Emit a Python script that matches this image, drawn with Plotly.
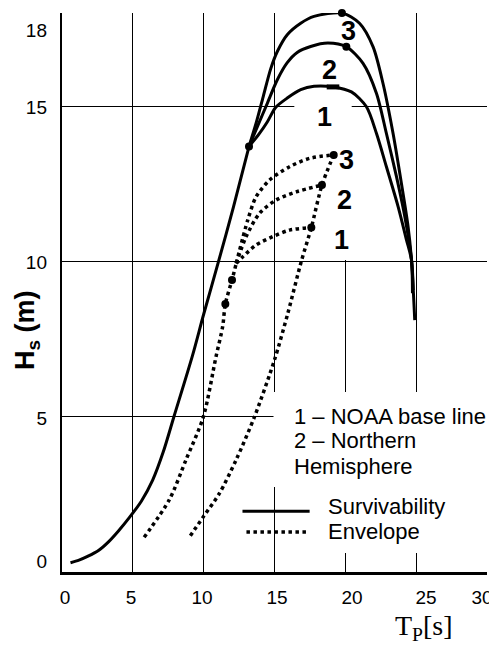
import plotly.graph_objects as go

# ---------------- data ----------------
# Survivability: common rising part up to the junction point
surv_base_T = [0.6, 1.2, 1.8, 2.6, 3.3, 4.0, 4.75, 5.6, 6.4, 7.15, 7.9, 9.2, 10.0, 11.05, 12.1, 13.2]
surv_base_H = [0.3, 0.38, 0.5, 0.7, 0.98, 1.33, 1.75, 2.28, 2.96, 3.87, 5.0, 6.95, 8.3, 10.0, 11.75, 13.7]
# Survivability branches 1 (NOAA base line), 2 (Northern Hemisphere), 3
surv1_T = [13.2, 13.9, 14.5, 15.08, 15.9, 16.85, 17.79, 19.13, 20.43, 21.49, 22.2, 22.9, 23.73, 24.32, 24.67, 24.79]
surv1_H = [13.7, 14.1, 14.5, 14.96, 15.26, 15.53, 15.64, 15.62, 15.46, 14.98, 14.12, 13.05, 11.76, 10.69, 10.05, 9.08]
surv2_T = [13.2, 13.8, 14.5, 15.2, 15.9, 16.6, 17.55, 18.77, 20.07, 21.25, 22.2, 22.9, 23.61, 24.2, 24.67, 24.74]
surv2_H = [13.7, 14.35, 15.1, 15.85, 16.4, 16.73, 16.92, 17.03, 16.91, 16.38, 15.41, 14.12, 12.73, 11.44, 10.05, 8.98]
surv3_T = [13.2, 13.7, 14.2, 14.73, 15.2, 15.9, 16.85, 17.79, 19.76, 21.0, 21.96, 22.66, 23.37, 23.96, 24.43, 24.67, 24.9]
surv3_H = [13.7, 14.45, 15.3, 16.2, 16.76, 17.3, 17.67, 17.89, 18.0, 17.67, 16.91, 15.73, 14.12, 12.51, 11.12, 10.05, 8.11]
surv_dot_T = [13.2, 20.07, 19.76]
surv_dot_H = [13.7, 16.91, 18.0]
surv1_mark_T = [19.13]
surv1_mark_H = [15.62]

# Envelope: left lower part, three branches, right connecting curve
env_left_T = [5.8, 7.57, 8.75, 9.98, 10.87, 11.34, 11.53, 12.0, 12.3]
env_left_H = [1.12, 2.32, 3.61, 5.0, 6.93, 7.9, 8.63, 9.4, 9.94]
env1_T = [12.3, 12.76, 13.7, 14.88, 16.06, 17.6]
env1_H = [9.94, 10.15, 10.53, 10.8, 11.01, 11.09]
env2_T = [12.3, 13.0, 13.94, 15.12, 16.53, 18.35]
env2_H = [9.94, 10.8, 11.55, 11.98, 12.24, 12.46]
env3_T = [12.3, 13.11, 13.7, 14.65, 16.06, 17.48, 19.18]
env3_H = [9.94, 11.33, 12.08, 12.62, 13.05, 13.32, 13.43]
env_right_T = [9.06, 9.98, 11.11, 12.29, 13.59, 15.0, 15.94, 16.89, 17.6, 18.35, 19.18]
env_right_H = [1.17, 1.78, 2.53, 3.61, 5.0, 6.83, 8.33, 10.0, 11.09, 12.46, 13.43]
env_dot_T = [11.53, 12.0, 17.6, 18.35, 19.18]
env_dot_H = [8.63, 9.4, 11.09, 12.46, 13.43]

# curve number labels
surv_lbl_T = [18.54, 18.9, 20.19]
surv_lbl_H = [14.66, 16.16, 17.43]
env_lbl_T = [19.72, 19.95, 20.07]
env_lbl_H = [10.69, 11.98, 13.26]
curve_ids = ["1", "2", "3"]

# axis tick labels
x_ticks = [5, 10, 15, 20, 25, 30]
y_ticks = [5, 10, 15, 18]
x_tick_text = ["0", "5", "10", "15", "20", "25", "30"]
x_tick_pos = [0.21, 4.87, 9.88, 15.18, 20.47, 25.69, 29.65]
y_tick_text = ["0", "5", "10", "15", "18"]
y_tick_pos = [0.35, 4.96, 9.98, 14.97, 17.45]

legend_lines = ["1 \u2013 NOAA base line", "2 \u2013 Northern", "Hemisphere"]

# ---------------- figure ----------------
FONT = "Liberation Sans, Arial, sans-serif"
SERIF = "Liberation Serif, Times New Roman, serif"

fig = go.Figure()

solid = dict(color="black", width=3, shape="spline", smoothing=0.8)
dotted = dict(color="black", width=3.5, dash="dot", shape="spline", smoothing=0.8)

for T, H in [(surv_base_T, surv_base_H), (surv1_T, surv1_H), (surv2_T, surv2_H), (surv3_T, surv3_H)]:
    fig.add_trace(go.Scatter(x=T, y=H, mode="lines", line=solid, cliponaxis=False,
                             hoverinfo="skip", showlegend=False))
for T, H in [(env_left_T, env_left_H), (env1_T, env1_H), (env2_T, env2_H), (env3_T, env3_H),
             (env_right_T, env_right_H)]:
    fig.add_trace(go.Scatter(x=T, y=H, mode="lines", line=dotted, cliponaxis=False,
                             hoverinfo="skip", showlegend=False))

fig.add_trace(go.Scatter(x=surv_dot_T + env_dot_T, y=surv_dot_H + env_dot_H, mode="markers",
                         marker=dict(color="black", size=8), cliponaxis=False,
                         hoverinfo="skip", showlegend=False))
fig.add_trace(go.Scatter(x=surv1_mark_T, y=surv1_mark_H, mode="markers",
                         marker=dict(symbol="line-ew", size=9, line=dict(color="black", width=5)),
                         cliponaxis=False, hoverinfo="skip", showlegend=False))

# overlay axes carrying the tick labels
fig.add_trace(go.Scatter(x=[None], y=[None], xaxis="x2", yaxis="y2", showlegend=False,
                         hoverinfo="skip"))

annotations = []
for t, h, s in zip(surv_lbl_T, surv_lbl_H, curve_ids):
    annotations.append(dict(x=t, y=h, xref="x", yref="y", text="<b>%s</b>" % s, showarrow=False,
                            font=dict(family=FONT, size=27, color="black")))
for t, h, s in zip(env_lbl_T, env_lbl_H, curve_ids):
    annotations.append(dict(x=t, y=h, xref="x", yref="y", text="<b>%s</b>" % s, showarrow=False,
                            font=dict(family=FONT, size=27, color="black")))

for i, s in enumerate(legend_lines):
    annotations.append(dict(x=16.2, y=[5.02, 4.24, 3.41][i], xref="x", yref="y", text=s,
                            xanchor="left", showarrow=False,
                            font=dict(family=FONT, size=22, color="black")))
annotations.append(dict(x=18.66, y=2.1, xref="x", yref="y", text="Survivability", xanchor="left",
                        showarrow=False, font=dict(family=FONT, size=22, color="black")))
annotations.append(dict(x=18.66, y=1.3, xref="x", yref="y", text="Envelope", xanchor="left",
                        showarrow=False, font=dict(family=FONT, size=22, color="black")))

annotations.append(dict(x=-0.0824, y=0.433, xref="paper", yref="paper",
                        xanchor="center", yanchor="middle",
                        text="<b>H<sub>s</sub> (m)</b>", textangle=-90, showarrow=False,
                        font=dict(family=FONT, size=27, color="black")))
annotations.append(dict(x=0.852, y=-0.1, xref="paper", yref="paper",
                        xanchor="center", yanchor="middle", text="T<sub>P</sub>[s]",
                        showarrow=False, font=dict(family=SERIF, size=28, color="black")))

shapes = [
    # white masks over gridlines (between grid and traces)
    dict(type="rect", xref="x", yref="y", x0=14.93, x1=31, y0=2.74, y1=5.8,
         fillcolor="white", line=dict(width=0), layer="between"),
    dict(type="rect", xref="x", yref="y", x0=15.2, x1=31, y0=0.61, y1=2.75,
         fillcolor="white", line=dict(width=0), layer="between"),
    dict(type="rect", xref="x", yref="y", x0=16.4, x1=20.45, y0=14.9, y1=15.1,
         fillcolor="white", line=dict(width=0), layer="between"),
    dict(type="rect", xref="x", yref="y", x0=19.88, x1=20.12, y0=10.05, y1=17.98,
         fillcolor="white", line=dict(width=0), layer="between"),
    # legend samples
    dict(type="line", xref="x", yref="y", x0=12.74, x1=17.48, y0=1.96, y1=1.96,
         line=dict(color="black", width=3)),
    dict(type="line", xref="x", yref="y", x0=13.02, x1=17.34, y0=1.29, y1=1.29,
         line=dict(color="black", width=3.5, dash="dot")),
]

# the page body has an 8px default margin: size the figure so the plot lands
# where it is in the reference (plot area 62..487 x 13..572 in page pixels)
fig.update_layout(
    width=489, height=638, autosize=False,
    margin=dict(l=54, r=10, t=5, b=74, pad=0),
    paper_bgcolor="white", plot_bgcolor="white",
    showlegend=False,
    font=dict(family=FONT, size=19, color="black"),
    xaxis=dict(range=[0, 30], tickvals=x_ticks, showticklabels=False, ticks="",
               showgrid=True, gridcolor="black", gridwidth=1, zeroline=False,
               showline=True, linecolor="black", linewidth=3),
    yaxis=dict(range=[0, 18], tickvals=y_ticks, showticklabels=False, ticks="",
               showgrid=True, gridcolor="black", gridwidth=1, zeroline=False,
               showline=True, linecolor="black", linewidth=2),
    xaxis2=dict(overlaying="x", anchor="y", side="bottom", range=[0, 30],
                tickvals=x_tick_pos, ticktext=x_tick_text, ticks="", showgrid=False,
                zeroline=False, showline=False, ticklabelstandoff=12,
                tickfont=dict(family=FONT, size=19, color="black")),
    yaxis2=dict(overlaying="y", anchor="x", side="left", range=[0, 18],
                tickvals=y_tick_pos, ticktext=y_tick_text, ticks="", showgrid=False,
                zeroline=False, showline=False, ticklabelstandoff=14,
                tickfont=dict(family=FONT, size=19, color="black")),
    annotations=annotations,
    shapes=shapes,
)

fig.write_html("out.html")
